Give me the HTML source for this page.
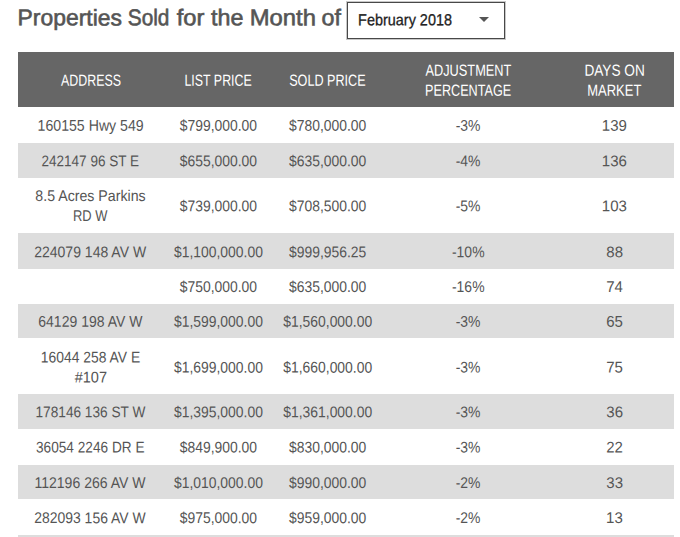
<!DOCTYPE html>
<html>
<head>
<meta charset="utf-8">
<title>Properties Sold</title>
<style>
html,body{margin:0;padding:0;background:#fff;}
body{width:680px;height:537px;overflow:hidden;position:relative;font-family:"Liberation Sans",sans-serif;}
.t{position:absolute;white-space:nowrap;transform-origin:0 50%;}
.tt{font-size:22.8px;line-height:30px;color:#555;-webkit-text-stroke:0.6px #555;}
.st{font-size:16px;line-height:20px;color:#222;-webkit-text-stroke:0.3px #222;}
.ht{font-size:16.1px;line-height:20px;color:#fff;}
.bt{font-size:15.5px;line-height:21px;color:#555;}
#selbox{position:absolute;left:347px;top:2px;width:156px;height:35px;border:1px solid #484848;background:#fff;box-shadow:0 0 0 1px rgba(72,72,72,0.3);}
#arr{position:absolute;left:479px;top:17px;width:0;height:0;border-left:5.5px solid transparent;border-right:5.5px solid transparent;border-top:5.5px solid #555;}
.hd{position:absolute;left:18px;top:52px;width:656px;height:55px;background:#666;}
.g{position:absolute;left:18px;width:656px;background:#ddd;}
</style>
</head>
<body>
<div id="selbox"></div><div id="arr"></div>
<div class="hd"></div>
<div class="g" style="top:143px;height:35.0px"></div>
<div class="g" style="top:233px;height:35.6px"></div>
<div class="g" style="top:304px;height:34.2px"></div>
<div class="g" style="top:394px;height:34.8px"></div>
<div class="g" style="top:464.5px;height:34.8px"></div>
<div class="g" style="top:535px;height:2px"></div>
<div class="t tt" id="t0" style="left:17px;top:2px;transform:matrix(1.0043,0.0005,0,1,0.60,0.35)">Properties</div>
<div class="t tt" id="t1" style="left:127px;top:2px;transform:matrix(0.9138,0.0005,0,1,0.75,0.35)">Sold</div>
<div class="t tt" id="t2" style="left:176px;top:2px;transform:matrix(1.0411,0.0005,0,1,0.65,0.35)">for</div>
<div class="t tt" id="t3" style="left:211px;top:2px;transform:matrix(1.0214,0.0005,0,1,0.10,0.35)">the</div>
<div class="t tt" id="t4" style="left:249px;top:2px;transform:matrix(1.0448,0.0005,0,1,0.75,0.35)">Month</div>
<div class="t tt" id="t5" style="left:321px;top:2px;transform:matrix(1.0214,0.0005,0,1,0.55,0.35)">of</div>
<div class="t st" id="sel" style="left:358px;top:10px;transform:matrix(0.9022,0.0005,0,1,0.10,0.30)">February 2018</div>
<div class="t ht" id="h0" style="left:61px;top:69px;transform:matrix(0.7714,0.0005,0,1,0.05,0.75)">ADDRESS</div>
<div class="t ht" id="h1" style="left:184px;top:69px;transform:matrix(0.7708,0.0005,0,1,0.45,0.75)">LIST PRICE</div>
<div class="t ht" id="h2" style="left:289px;top:69px;transform:matrix(0.7850,0.0005,0,1,0.15,0.75)">SOLD PRICE</div>
<div class="t ht" id="h3a" style="left:425px;top:59px;transform:matrix(0.7938,0.0005,0,1,0.45,0.75)">ADJUSTMENT</div>
<div class="t ht" id="h3b" style="left:425px;top:79px;transform:matrix(0.7847,0.0005,0,1,0.05,0.75)">PERCENTAGE</div>
<div class="t ht" id="h4a" style="left:584px;top:59px;transform:matrix(0.8472,0.0005,0,1,0.40,0.75)">DAYS ON</div>
<div class="t ht" id="h4b" style="left:587px;top:79px;transform:matrix(0.8081,0.0005,0,1,0.15,0.75)">MARKET</div>
<div class="t bt" id="r0c0" style="left:37px;top:114px;transform:matrix(0.9128,0.0005,0,1,0.52,0.80)">160155 Hwy 549</div>
<div class="t bt" id="r0c1" style="left:179px;top:114px;transform:matrix(0.8970,0.0005,0,1,0.72,0.80)">$799,000.00</div>
<div class="t bt" id="r0c2" style="left:289px;top:114px;transform:matrix(0.8970,0.0005,0,1,0.00,0.80)">$780,000.00</div>
<div class="t bt" id="r0c3" style="left:455px;top:114px;transform:matrix(0.9000,0.0005,0,1,0.72,0.80)">-3%</div>
<div class="t bt" id="r0c4" style="left:601px;top:114px;transform:matrix(0.9700,0.0005,0,1,0.80,0.80)">139</div>
<div class="t bt" id="r1c0" style="left:41px;top:150px;transform:matrix(0.8742,0.0005,0,1,0.40,0.20)">242147 96 ST E</div>
<div class="t bt" id="r1c1" style="left:179px;top:150px;transform:matrix(0.8970,0.0005,0,1,0.72,0.20)">$655,000.00</div>
<div class="t bt" id="r1c2" style="left:289px;top:150px;transform:matrix(0.8970,0.0005,0,1,0.00,0.20)">$635,000.00</div>
<div class="t bt" id="r1c3" style="left:455px;top:150px;transform:matrix(0.9000,0.0005,0,1,0.72,0.20)">-4%</div>
<div class="t bt" id="r1c4" style="left:601px;top:150px;transform:matrix(0.9700,0.0005,0,1,0.80,0.20)">136</div>
<div class="t bt" id="r2c0a" style="left:35px;top:184px;transform:matrix(0.9150,0.0005,0,1,0.30,1.00)">8.5 Acres Parkins</div>
<div class="t bt" id="r2c0b" style="left:72px;top:205px;transform:matrix(0.8342,0.0005,0,1,0.92,0.10)">RD W</div>
<div class="t bt" id="r2c1" style="left:179px;top:195px;transform:matrix(0.8970,0.0005,0,1,0.72,0.30)">$739,000.00</div>
<div class="t bt" id="r2c2" style="left:289px;top:195px;transform:matrix(0.8970,0.0005,0,1,0.00,0.30)">$708,500.00</div>
<div class="t bt" id="r2c3" style="left:455px;top:195px;transform:matrix(0.9000,0.0005,0,1,0.72,0.30)">-5%</div>
<div class="t bt" id="r2c4" style="left:601px;top:195px;transform:matrix(0.9700,0.0005,0,1,0.80,0.30)">103</div>
<div class="t bt" id="r3c0" style="left:34px;top:241px;transform:matrix(0.9048,0.0005,0,1,0.15,0.30)">224079 148 AV W</div>
<div class="t bt" id="r3c1" style="left:173px;top:241px;transform:matrix(0.8970,0.0005,0,1,0.97,0.30)">$1,100,000.00</div>
<div class="t bt" id="r3c2" style="left:289px;top:241px;transform:matrix(0.8970,0.0005,0,1,0.00,0.30)">$999,956.25</div>
<div class="t bt" id="r3c3" style="left:451px;top:241px;transform:matrix(0.9000,0.0005,0,1,0.97,0.30)">-10%</div>
<div class="t bt" id="r3c4" style="left:606px;top:241px;transform:matrix(0.9700,0.0005,0,1,0.30,0.30)">88</div>
<div class="t bt" id="r4c1" style="left:179px;top:275px;transform:matrix(0.8970,0.0005,0,1,0.72,0.90)">$750,000.00</div>
<div class="t bt" id="r4c2" style="left:289px;top:275px;transform:matrix(0.8970,0.0005,0,1,0.00,0.90)">$635,000.00</div>
<div class="t bt" id="r4c3" style="left:451px;top:275px;transform:matrix(0.9000,0.0005,0,1,0.97,0.90)">-16%</div>
<div class="t bt" id="r4c4" style="left:606px;top:275px;transform:matrix(0.9700,0.0005,0,1,0.18,0.90)">74</div>
<div class="t bt" id="r5c0" style="left:38px;top:310px;transform:matrix(0.9041,0.0005,0,1,0.27,0.70)">64129 198 AV W</div>
<div class="t bt" id="r5c1" style="left:173px;top:310px;transform:matrix(0.8970,0.0005,0,1,0.97,0.70)">$1,599,000.00</div>
<div class="t bt" id="r5c2" style="left:283px;top:310px;transform:matrix(0.8970,0.0005,0,1,0.25,0.70)">$1,560,000.00</div>
<div class="t bt" id="r5c3" style="left:455px;top:310px;transform:matrix(0.9000,0.0005,0,1,0.72,0.70)">-3%</div>
<div class="t bt" id="r5c4" style="left:606px;top:310px;transform:matrix(0.9700,0.0005,0,1,0.18,0.70)">65</div>
<div class="t bt" id="r6c0a" style="left:40px;top:346px;transform:matrix(0.8967,0.0005,0,1,0.80,0.40)">16044 258 AV E</div>
<div class="t bt" id="r6c0b" style="left:74px;top:366px;transform:matrix(0.9378,0.0005,0,1,0.67,0.50)">#107</div>
<div class="t bt" id="r6c1" style="left:173px;top:356px;transform:matrix(0.8970,0.0005,0,1,0.97,0.60)">$1,699,000.00</div>
<div class="t bt" id="r6c2" style="left:283px;top:356px;transform:matrix(0.8970,0.0005,0,1,0.25,0.60)">$1,660,000.00</div>
<div class="t bt" id="r6c3" style="left:455px;top:356px;transform:matrix(0.9000,0.0005,0,1,0.72,0.60)">-3%</div>
<div class="t bt" id="r6c4" style="left:606px;top:356px;transform:matrix(0.9700,0.0005,0,1,0.18,0.60)">75</div>
<div class="t bt" id="r7c0" style="left:35px;top:401px;transform:matrix(0.8806,0.0005,0,1,0.52,0.30)">178146 136 ST W</div>
<div class="t bt" id="r7c1" style="left:173px;top:401px;transform:matrix(0.8970,0.0005,0,1,0.97,0.30)">$1,395,000.00</div>
<div class="t bt" id="r7c2" style="left:283px;top:401px;transform:matrix(0.8970,0.0005,0,1,0.25,0.30)">$1,361,000.00</div>
<div class="t bt" id="r7c3" style="left:455px;top:401px;transform:matrix(0.9000,0.0005,0,1,0.72,0.30)">-3%</div>
<div class="t bt" id="r7c4" style="left:606px;top:401px;transform:matrix(0.9700,0.0005,0,1,0.30,0.30)">36</div>
<div class="t bt" id="r8c0" style="left:36px;top:436px;transform:matrix(0.8802,0.0005,0,1,0.02,0.40)">36054 2246 DR E</div>
<div class="t bt" id="r8c1" style="left:179px;top:436px;transform:matrix(0.8970,0.0005,0,1,0.72,0.40)">$849,900.00</div>
<div class="t bt" id="r8c2" style="left:289px;top:436px;transform:matrix(0.8970,0.0005,0,1,0.00,0.40)">$830,000.00</div>
<div class="t bt" id="r8c3" style="left:455px;top:436px;transform:matrix(0.9000,0.0005,0,1,0.72,0.40)">-3%</div>
<div class="t bt" id="r8c4" style="left:606px;top:436px;transform:matrix(0.9700,0.0005,0,1,0.18,0.40)">22</div>
<div class="t bt" id="r9c0" style="left:34px;top:471px;transform:matrix(0.9068,0.0005,0,1,0.40,0.90)">112196 266 AV W</div>
<div class="t bt" id="r9c1" style="left:173px;top:471px;transform:matrix(0.8970,0.0005,0,1,0.97,0.90)">$1,010,000.00</div>
<div class="t bt" id="r9c2" style="left:289px;top:471px;transform:matrix(0.8970,0.0005,0,1,0.00,0.90)">$990,000.00</div>
<div class="t bt" id="r9c3" style="left:455px;top:471px;transform:matrix(0.9000,0.0005,0,1,0.72,0.90)">-2%</div>
<div class="t bt" id="r9c4" style="left:606px;top:471px;transform:matrix(0.9700,0.0005,0,1,0.30,0.90)">33</div>
<div class="t bt" id="r10c0" style="left:34px;top:507px;transform:matrix(0.9008,0.0005,0,1,0.15,0.10)">282093 156 AV W</div>
<div class="t bt" id="r10c1" style="left:179px;top:507px;transform:matrix(0.8970,0.0005,0,1,0.72,0.10)">$975,000.00</div>
<div class="t bt" id="r10c2" style="left:289px;top:507px;transform:matrix(0.8970,0.0005,0,1,0.00,0.10)">$959,000.00</div>
<div class="t bt" id="r10c3" style="left:455px;top:507px;transform:matrix(0.9000,0.0005,0,1,0.72,0.10)">-2%</div>
<div class="t bt" id="r10c4" style="left:606px;top:507px;transform:matrix(0.9700,0.0005,0,1,0.05,0.10)">13</div>
</body>
</html>
